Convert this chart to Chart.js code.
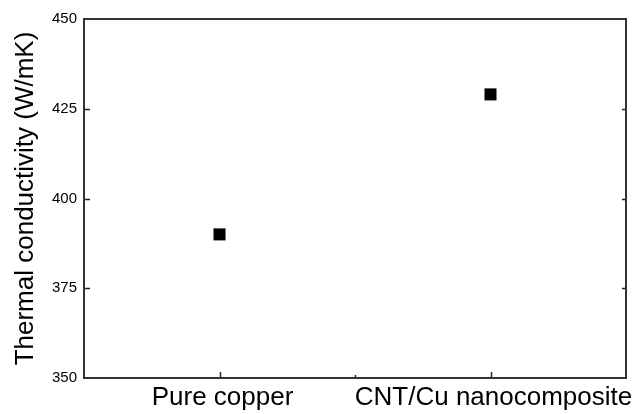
<!DOCTYPE html>
<html>
<head>
<meta charset="utf-8">
<script src="https://cdn.jsdelivr.net/npm/chart.js@4/dist/chart.umd.min.js"></script>
<style>
  html, body { margin: 0; padding: 0; background: #fff; }
  #wrap { width: 637px; height: 414px; }
</style>
</head>
<body>
<div id="wrap"><canvas id="myChart" width="637" height="414"></canvas></div>
<script>
// data
const categories = ['Pure copper', 'CNT/Cu nanocomposite'];
const categoryPos = [1, 3];
const conductivity = [390, 429];
const xTicks = [1, 2, 3];          // 2 is the unlabeled minor tick
const yTicks = [350, 375, 400, 425, 450];

const points = categoryPos.map((x, i) => ({ x: x, y: conductivity[i] }));

// inward ticks + box frame, drawn through the chart's own scales
const framePlugin = {
  id: 'frame',
  afterDraw: (chart) => {
    const ctx = chart.ctx;
    const a = chart.chartArea;
    const xs = chart.scales.x;
    const ys = chart.scales.y;
    ctx.save();
    ctx.strokeStyle = '#222';
    ctx.lineWidth = 1.5;
    ctx.beginPath();
    yTicks.slice(1, -1).forEach(v => {
      const py = Math.round(ys.getPixelForValue(v)) + 0.5;
      ctx.moveTo(a.left, py); ctx.lineTo(a.left + 6, py);
      ctx.moveTo(a.right, py); ctx.lineTo(a.right - 4, py);
    });
    xTicks.forEach(v => {
      const px = Math.round(xs.getPixelForValue(v)) + 0.5;
      const len = categoryPos.includes(v) ? 6 : 3;
      ctx.moveTo(px, a.bottom); ctx.lineTo(px, a.bottom - len);
    });
    ctx.stroke();
    ctx.strokeStyle = '#333';
    ctx.lineWidth = 2;
    ctx.strokeRect(a.left, a.top, a.right - a.left, a.bottom - a.top);
    ctx.restore();
  }
};

const config = {
  type: 'scatter',
  data: {
    datasets: [{
      data: points,
      pointStyle: 'rect',
      radius: 8.5,
      hoverRadius: 8.5,
      borderWidth: 0,
      backgroundColor: '#000',
      borderColor: '#000'
    }]
  },
  options: {
    responsive: false,
    animation: false,
    layout: { padding: { top: 19, right: 11, left: 0, bottom: 0 } },
    plugins: {
      legend: { display: false },
      tooltip: { enabled: false }
    },
    scales: {
      x: {
        type: 'linear',
        min: 0,
        max: 4,
        grid: { display: false, drawTicks: false },
        border: { display: false },
        afterBuildTicks: (scale) => { scale.ticks = xTicks.map(v => ({ value: v })); },
        afterFit: (scale) => { scale.height = 36; },
        ticks: {
          padding: 4,
          labelOffset: 3,
          maxRotation: 0,
          autoSkip: false,
          color: '#000',
          font: { family: 'Liberation Sans, Arial, sans-serif', size: 26 },
          callback: (v) => {
            const i = categoryPos.indexOf(v);
            return i >= 0 ? categories[i] : '';
          }
        }
      },
      y: {
        min: 350,
        max: 450,
        grid: { display: false, drawTicks: false },
        border: { display: false },
        afterBuildTicks: (scale) => { scale.ticks = yTicks.map(v => ({ value: v })); },
        afterFit: (scale) => { scale.width = 84; },
        ticks: {
          padding: 7,
          color: '#000',
          font: { family: 'Liberation Sans, Arial, sans-serif', size: 15 }
        },
        title: {
          display: true,
          text: 'Thermal conductivity (W/mK)',
          color: '#000',
          padding: { top: 10, bottom: 0 },
          font: { family: 'Liberation Sans, Arial, sans-serif', size: 26 }
        }
      }
    }
  },
  plugins: [framePlugin]
};

const ctx = document.getElementById('myChart').getContext('2d');
new Chart(ctx, config);
</script>
</body>
</html>
